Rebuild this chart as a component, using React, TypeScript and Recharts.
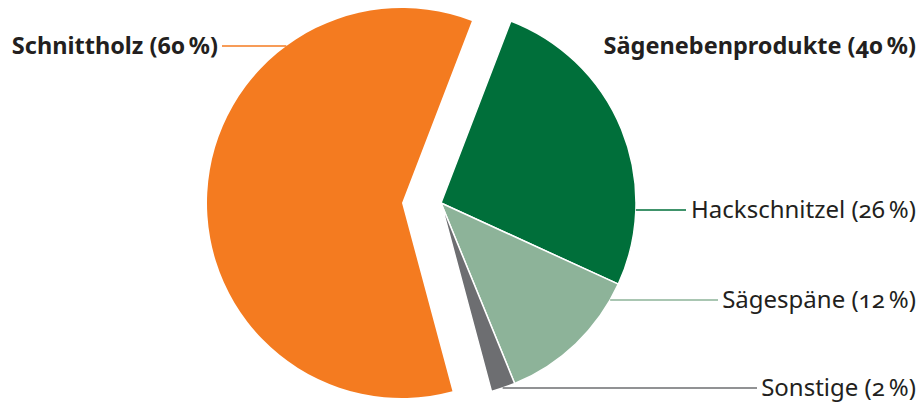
import React from "react";
import { PieChart, Pie, Cell } from "recharts";

// Einschnitt: Anteile in Prozent
const MAIN_NAMES = ["Schnittholz"];
const MAIN_VALUES = [60];
const SIDE_NAMES = ["Hackschnitzel", "Sägespäne", "Sonstige"];
const SIDE_VALUES = [26, 12, 2];
const SIDE_TITLE = "Sägenebenprodukte (40\u202F%)";

const ORANGE = "#f47b20";
const SIDE_COLORS = ["#006f3a", "#8db399", "#6d6e71"];
const INK = "#231f20";
const FONT = "'Noto Sans', 'Open Sans', sans-serif";
const NUMS = { fontVariantNumeric: "oldstyle-nums" } as const;

// label layout (line height and where the leader line stops)
const SIDE_LABEL_Y = [210, 300, 388];
const SIDE_LINE_END = [686, 718, 757];
const MAIN_LABEL_Y = 46;
const MAIN_LABEL_END = 218;

const mainData = MAIN_NAMES.map((name, i) => ({ name, value: MAIN_VALUES[i] }));
const sideData = SIDE_NAMES.map((name, i) => ({ name, value: SIDE_VALUES[i] }));

function arcX(cx: number, cy: number, r: number, y: number, side: 1 | -1) {
  const dy = y - cy;
  return cx + side * Math.sqrt(Math.max(0, r * r - dy * dy));
}

function SideLabel(props: any) {
  const { cx, cy, outerRadius, index } = props;
  const y = SIDE_LABEL_Y[index];
  const x0 = arcX(cx, cy, outerRadius, y, 1);
  return (
    <g>
      <line x1={x0} y1={y} x2={SIDE_LINE_END[index]} y2={y} stroke={SIDE_COLORS[index]} strokeWidth={1.3} />
      <text x={916} y={y + 8} textAnchor="end" fill={INK} fontSize={24} fontFamily={FONT} style={NUMS}>
        {`${SIDE_NAMES[index]} (${SIDE_VALUES[index]}\u202F%)`}
      </text>
    </g>
  );
}

function MainLabel(props: any) {
  const { cx, cy, outerRadius, index } = props;
  const y = MAIN_LABEL_Y;
  const x0 = arcX(cx, cy, outerRadius, y, -1);
  return (
    <g>
      <line x1={MAIN_LABEL_END + 4} y1={y} x2={x0} y2={y} stroke={ORANGE} strokeWidth={1.3} />
      <text x={MAIN_LABEL_END} y={y + 8} textAnchor="end" fill={INK} fontSize={23.5} fontWeight={700} fontFamily={FONT} style={NUMS}>
        {`${MAIN_NAMES[index]} (${MAIN_VALUES[index]}\u202F%)`}
      </text>
    </g>
  );
}

export default function App() {
  return (
    <div style={{ position: "absolute", left: 0, top: 0 }}>
      <PieChart width={921} height={402} margin={{ top: 0, right: 0, bottom: 0, left: 0 }}>
        <Pie
          data={mainData}
          dataKey="value"
          cx={402}
          cy={203}
          outerRadius={195}
          startAngle={-75}
          endAngle={-291}
          stroke="none"
          label={MainLabel}
          labelLine={false}
          isAnimationActive={false}
        >
          {mainData.map((d) => (
            <Cell key={d.name} fill={ORANGE} />
          ))}
        </Pie>
        <Pie
          data={sideData}
          dataKey="value"
          cx={441}
          cy={203}
          outerRadius={195}
          startAngle={69}
          endAngle={-75}
          stroke="#fff"
          strokeWidth={1.5}
          label={SideLabel}
          labelLine={false}
          isAnimationActive={false}
        >
          {sideData.map((d, i) => (
            <Cell key={d.name} fill={SIDE_COLORS[i]} />
          ))}
        </Pie>
        <text x={916} y={54} textAnchor="end" fill={INK} fontSize={23.5} fontWeight={700} fontFamily={FONT} style={NUMS}>
          {SIDE_TITLE}
        </text>
      </PieChart>
    </div>
  );
}
